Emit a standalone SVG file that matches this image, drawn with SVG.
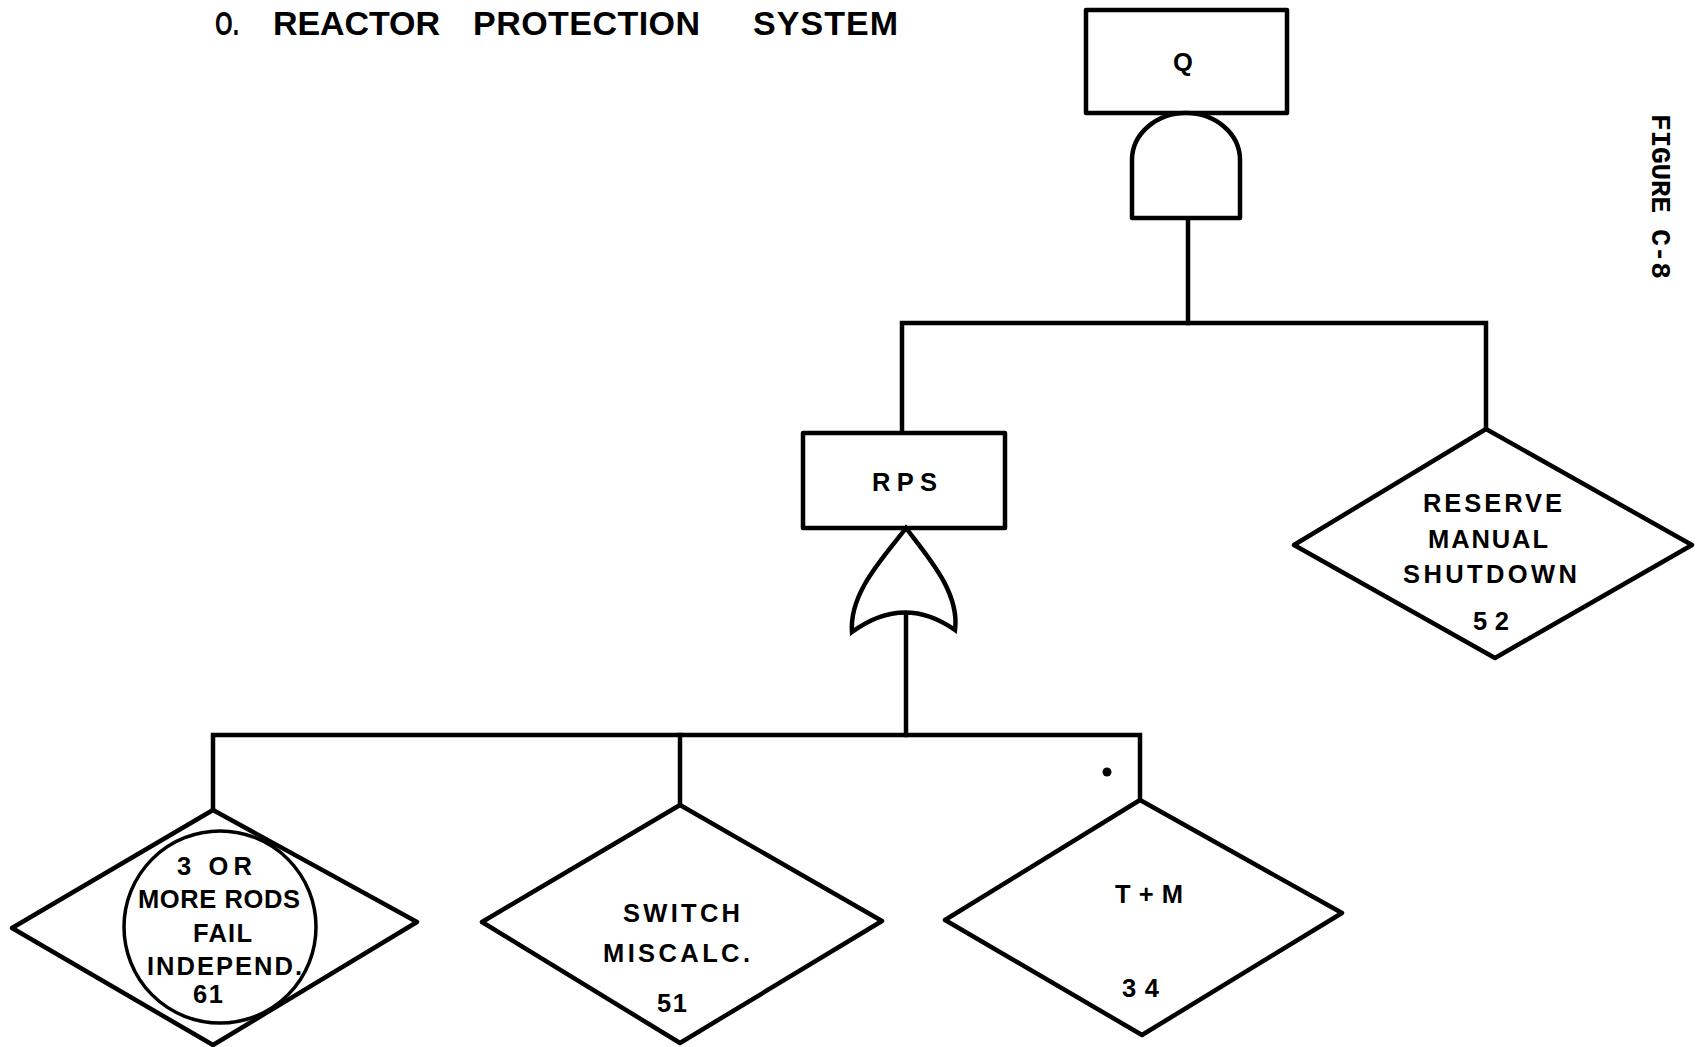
<svg xmlns="http://www.w3.org/2000/svg" width="1702" height="1047" viewBox="0 0 1702 1047">
<style>
.shape{fill:#fff;stroke:#000;stroke-width:4.5;stroke-linejoin:round}
.gate{fill:#fff;stroke:#000;stroke-width:4.5;stroke-linejoin:miter;stroke-miterlimit:10}
.thin{fill:none;stroke:#000;stroke-width:3.5}
.conn{fill:none;stroke:#000;stroke-width:4.5;stroke-linecap:square;stroke-linejoin:miter}
.lbl{font-family:"Liberation Sans",Arial,sans-serif;font-weight:bold;font-size:25.5px;fill:#000}
.title{font-family:"Liberation Sans",Arial,sans-serif;font-weight:bold;font-size:34px;fill:#000}
.fig{font-family:"Liberation Mono","Courier New",monospace;font-weight:bold;font-size:28px;fill:#000}
</style>
<rect width="1702" height="1047" fill="#fff"/>

<g id="title">
<text class="title" x="215" y="35" textLength="24" lengthAdjust="spacingAndGlyphs">O.</text>
<text class="title" x="273" y="35" textLength="167" lengthAdjust="spacing">REACTOR</text>
<text class="title" x="473" y="35" textLength="227" lengthAdjust="spacing">PROTECTION</text>
<text class="title" x="753" y="35" textLength="145" lengthAdjust="spacing">SYSTEM</text>
</g>

<g id="figure-label">
<text class="fig" transform="translate(1652,114) rotate(90)" textLength="165">FIGURE C-8</text>
</g>

<g id="connectors">
<path class="conn" d="M1188,220 L1188,323"/>
<path class="conn" d="M902,433 L902,323 L1486,323 L1486,429"/>
<path class="conn" d="M906,613 L906,735"/>
<path class="conn" d="M213,810 L213,735 L1140,735 L1140,800"/>
<path class="conn" d="M680,735 L680,805"/>
</g>

<g id="node-Q">
<rect class="shape" x="1086" y="10" width="201" height="103"/>
<text class="lbl" x="1173" y="71" textLength="20">Q</text>
</g>

<g id="gate-AND">
<path class="shape" d="M1132,218 L1132,160 A54,47 0 0 1 1240,160 L1240,218 Z"/>
</g>

<g id="node-RPS">
<rect class="shape" x="803" y="433" width="202" height="95"/>
<text class="lbl" x="872" y="491" textLength="65" lengthAdjust="spacing">RPS</text>
</g>

<g id="gate-OR">
<path class="gate" d="M906,528 C885,556 849,592 852,632 Q904,594 955,630 C960,592 927,556 906,528 Z"/>
</g>

<g id="node-52">
<polygon class="shape" points="1486,429 1692,545 1495,658 1294,545"/>
<text class="lbl" x="1423" y="512" textLength="139" lengthAdjust="spacing">RESERVE</text>
<text class="lbl" x="1428" y="548" textLength="120" lengthAdjust="spacing">MANUAL</text>
<text class="lbl" x="1403" y="583" textLength="174" lengthAdjust="spacing">SHUTDOWN</text>
<text class="lbl" x="1473" y="630" textLength="36" lengthAdjust="spacing">52</text>
</g>

<g id="node-61">
<polygon class="shape" points="213,810 417,922 213,1045 12,928"/>
<circle class="thin" cx="220" cy="927" r="96"/>
<text class="lbl" x="177" y="875" textLength="75" lengthAdjust="spacing">3 OR</text>
<text class="lbl" x="138" y="908" textLength="162" lengthAdjust="spacing">MORE RODS</text>
<text class="lbl" x="193" y="942" textLength="59" lengthAdjust="spacing">FAIL</text>
<text class="lbl" x="147" y="975" textLength="155" lengthAdjust="spacing">INDEPEND.</text>
<text class="lbl" x="193" y="1003" textLength="30" lengthAdjust="spacing">61</text>
</g>

<g id="node-51">
<polygon class="shape" points="680,805 882,921 680,1043 482,922"/>
<text class="lbl" x="623" y="922" textLength="117" lengthAdjust="spacing">SWITCH</text>
<text class="lbl" x="603" y="962" textLength="147" lengthAdjust="spacing">MISCALC.</text>
<text class="lbl" x="657" y="1012" textLength="30" lengthAdjust="spacing">51</text>
</g>

<g id="node-34">
<polygon class="shape" points="1140,800 1342,913 1142,1035 945,920"/>
<text class="lbl" x="1115" y="903" textLength="68" lengthAdjust="spacing">T + M</text>
<text class="lbl" x="1122" y="997" textLength="37" lengthAdjust="spacing">34</text>
</g>

<circle cx="1107" cy="772" r="4.5" fill="#000"/>
</svg>
